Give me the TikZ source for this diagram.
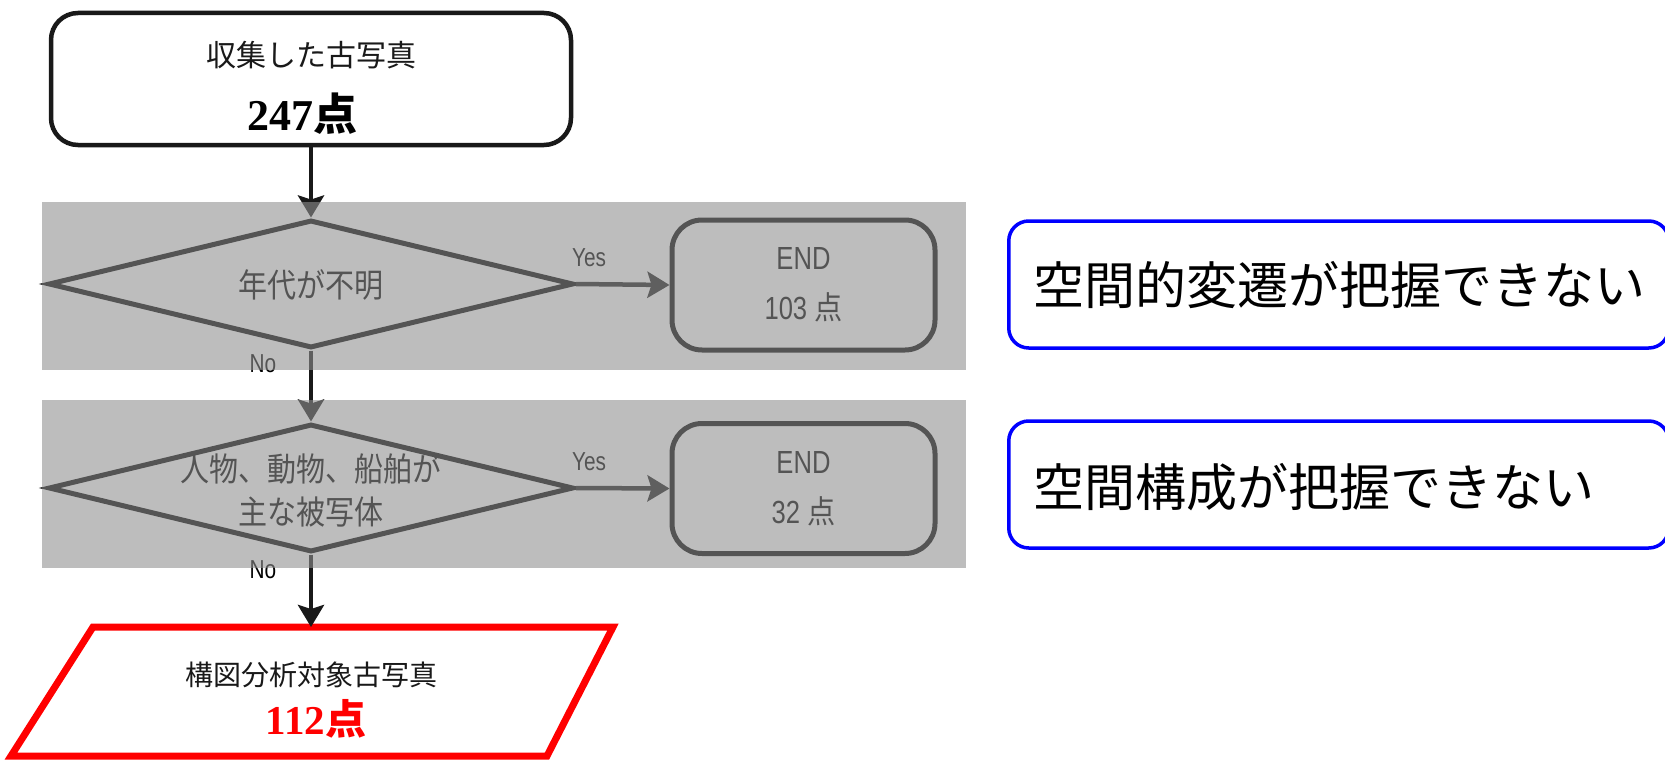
\documentclass[tikz,border=0pt]{standalone}
\usepackage{fontspec}
\usetikzlibrary{arrows.meta,shapes.geometric}
\newfontfamily\jp{Noto Sans CJK JP}
\newfontfamily\jpn[FakeStretch=0.88]{Noto Sans CJK JP}
\newfontfamily\nar[FakeStretch=0.8]{Liberation Sans}
\newfontfamily\tnr{Liberation Serif}
\definecolor{bandgray}{RGB}{144,144,144}
\definecolor{myred}{RGB}{255,0,0}
\definecolor{myblue}{RGB}{0,0,255}
\tikzset{
  startbox/.style={draw=black!90, line width=4.5pt, rounded corners=27pt, minimum width=520pt, minimum height=132pt, inner sep=0pt},
  endbox/.style={draw=black, line width=5pt, rounded corners=30pt, minimum width=263pt, minimum height=130pt, inner sep=0pt, align=center, font=\fontsize{32}{50}\selectfont\nar},
  dia/.style={draw=black, diamond, line width=5pt, minimum width=525pt, minimum height=128pt, inner sep=0pt},
  diatext/.style={align=center, inner sep=0pt, font=\fontsize{33}{43}\selectfont\jpn},
  arr/.style={draw=black!90, line width=4.5pt, -{Stealth[length=22pt,width=26pt,inset=4pt]}},
  lbl/.style={inner sep=0pt, font=\fontsize{26}{30}\selectfont\nar},
  bluebox/.style={draw=myblue, line width=3.5pt, rounded corners=20pt, minimum width=660pt, minimum height=127pt, inner sep=0pt, anchor=west},
  bluetext/.style={inner sep=0pt, anchor=west, font=\fontsize{51}{60}\selectfont\jp},
  band/.style={fill=bandgray, fill opacity=0.59, draw=none},
}
\begin{document}
\begin{tikzpicture}[x=1pt,y=-1pt]
\useasboundingbox (0,0) rectangle (1665,760);
\fill[white] (0,0) rectangle (1665,760);

% start box
\node[startbox] (start) at (311,79) {};
\node[inner sep=0pt, font=\fontsize{30}{36}\selectfont\jp, text=black!90] (starttext) at (311,55) {収集した古写真};
\node[inner sep=0pt, font=\fontsize{44}{50}\selectfont\tnr\bfseries] (startnum) at (302,114) {247{\jp\bfseries 点}};

% decision 1
\node[dia] (d1) at (311,284) {};
\node[diatext] (d1text) at (311,285) {年代が不明};
\node[endbox] (e1) at (803.5,285) {END\\103 {\jpn 点}};
\draw[arr] (start.south) -- (d1.north);
\draw[arr] (d1.east) -- (e1.west);
\node[lbl] (yes1) at (589,258) {Yes};
\node[lbl] (no1) at (263,364) {No};

% decision 2
\node[dia] (d2) at (311,488) {};
\node[diatext] (d2text) at (311,490) {人物、動物、船舶が\\主な被写体};
\node[endbox] (e2) at (803.5,488.5) {END\\32 {\jpn 点}};
\draw[arr] (d1.south) -- (d2.north);
\draw[arr] (d2.east) -- (e2.west);
\node[lbl] (yes2) at (589,462) {Yes};
\node[lbl] (no2) at (263,570) {No};

% result parallelogram
\coordinate (ptop) at (311,627);
\draw[myred, line width=7pt, line join=miter] (93,627) -- (613,627) -- (547,756) -- (11,756) -- cycle;
\node[inner sep=0pt, font=\fontsize{28}{34}\selectfont\jp, text=black!90] (restext) at (311,675) {構図分析対象古写真};
\node[inner sep=0pt, font=\fontsize{41}{46}\selectfont\tnr\bfseries, text=myred] (resnum) at (316,719) {112{\jp\bfseries 点}};
\draw[arr] (d2.south) -- (ptop);

% gray overlay bands
\path[band] (42,202) rectangle (966,370);
\path[band] (42,400) rectangle (966,568);

% blue boxes
\node[bluebox] (b1) at (1007,284.5) {};
\node[bluetext] (b1text) at (1033,285) {空間的変遷が把握できない};
\node[bluebox] (b2) at (1007,484.5) {};
\node[bluetext] (b2text) at (1033,487) {空間構成が把握できない};
\end{tikzpicture}
\end{document}
